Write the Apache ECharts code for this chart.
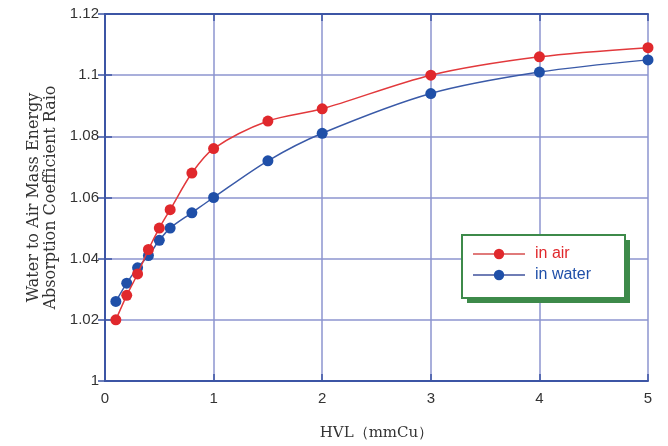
<!DOCTYPE html>
<html><head><meta charset="utf-8">
<script src="https://cdn.jsdelivr.net/npm/echarts@6/dist/echarts.min.js"></script>
<style>html,body{margin:0;padding:0;background:#fff}#c{width:668px;height:446px}</style>
</head><body><div id="c"></div>
<script>
const hvl = [0.1, 0.2, 0.3, 0.4, 0.5, 0.6, 0.8, 1.0, 1.5, 2, 3, 4, 5];
const inAir = [1.020, 1.028, 1.035, 1.043, 1.050, 1.056, 1.068, 1.076, 1.085, 1.089, 1.100, 1.106, 1.109];
const inWater = [1.026, 1.032, 1.037, 1.041, 1.046, 1.050, 1.055, 1.060, 1.072, 1.081, 1.094, 1.101, 1.105];
const seriesNames = ['in air', 'in water'];
const yAxisTitle = 'Water to Air Mass Energy\nAbsorption Coefficient Raio';
const xAxisTitle = 'HVL（mmCu）';

const axisBlue = '#3c55a5';
const gridBlue = '#8c95cf';
const red = '#e0282c';
const blue = '#1f4fa8';
const green = '#3d8a4a';

const chart = echarts.init(document.getElementById('c'));
const baseAxis = {
  axisLine: {show: true, lineStyle: {color: axisBlue, width: 2}},
  axisTick: {show: true, inside: true, length: 7, lineStyle: {color: axisBlue, width: 1.5}},
  splitLine: {show: false}
};
chart.setOption({
  animation: false,
  grid: {left: 105, right: 20, top: 14, bottom: 63.5},
  graphic: [
    {type: 'rect', z: 50, shape: {x: 467, y: 240, width: 163, height: 63}, style: {fill: green}},
    {type: 'rect', z: 51, shape: {x: 462, y: 235, width: 163, height: 63}, style: {fill: '#fff', stroke: green, lineWidth: 2}}
  ],
  legend: {
    z: 60, orient: 'vertical', left: 472, top: 246, itemWidth: 52, itemHeight: 13, itemGap: 5,
    padding: 0,
    textStyle: {fontFamily: 'Liberation Sans', fontSize: 16, padding: [0, 0, 0, 5]},
    data: [
      {name: seriesNames[0], textStyle: {color: red}, lineStyle: {color: '#e07a7a'}},
      {name: seriesNames[1], textStyle: {color: blue}, lineStyle: {color: '#6f7db5'}}
    ]
  },
  xAxis: [
    Object.assign({}, baseAxis, {
      type: 'value', min: 0, max: 5, interval: 1,
      name: xAxisTitle, nameLocation: 'middle', nameGap: 45,
      nameTextStyle: {fontFamily: 'DejaVu Serif', fontSize: 15, color: '#333'},
      axisLabel: {fontFamily: 'Liberation Sans', fontSize: 15, color: '#333', margin: 10},
      splitLine: {show: true, lineStyle: {color: gridBlue, width: 1.5}}
    }),
    Object.assign({}, baseAxis, {type: 'value', min: 0, max: 5, interval: 1, position: 'top', axisLabel: {show: false}})
  ],
  yAxis: [
    Object.assign({}, baseAxis, {
      type: 'value', min: 1, max: 1.12, interval: 0.02,
      name: yAxisTitle, nameLocation: 'middle', nameGap: 46, nameRotate: 90,
      nameTextStyle: {fontFamily: 'DejaVu Serif', fontSize: 16, color: '#333', lineHeight: 17},
      axisLabel: {fontFamily: 'Liberation Sans', fontSize: 15, color: '#333', margin: 6},
      splitLine: {show: true, lineStyle: {color: gridBlue, width: 1.5}}
    }),
    Object.assign({}, baseAxis, {type: 'value', min: 1, max: 1.12, interval: 0.02, position: 'right', axisLabel: {show: false}})
  ],
  series: [
    {name: seriesNames[0], type: 'line', smooth: 0.3, symbol: 'circle', symbolSize: 11,
     data: hvl.map((x, i) => [x, inAir[i]]),
     itemStyle: {color: red}, lineStyle: {color: '#e2393c', width: 1.5}, z: 3},
    {name: seriesNames[1], type: 'line', smooth: 0.3, symbol: 'circle', symbolSize: 11,
     data: hvl.map((x, i) => [x, inWater[i]]),
     itemStyle: {color: blue}, lineStyle: {color: '#3a5aa8', width: 1.5}, z: 2}
  ]
});
</script></body></html>
